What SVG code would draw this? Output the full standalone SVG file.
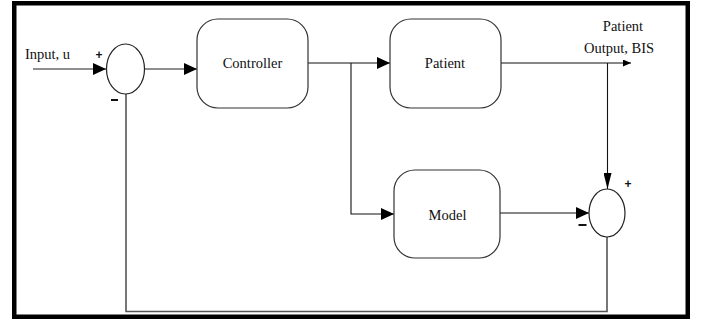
<svg xmlns="http://www.w3.org/2000/svg" width="706" height="320" viewBox="0 0 706 320">
  <style>
    .block { fill: #ffffff; stroke: #333333; stroke-width: 1.2; }
    .sum { fill: #ffffff; stroke: #222222; stroke-width: 1.2; }
    .label { font-family: "Liberation Serif", "Times New Roman", "DejaVu Serif", serif; font-size: 14.5px; fill: #111111; }
    .sign { font-family: "Liberation Sans", Arial, sans-serif; font-weight: bold; font-size: 12px; fill: #111111; }
    .wire { fill: none; stroke: #111111; stroke-width: 1.1; }
    .wire-grey { fill: none; stroke: #6a6a6a; stroke-width: 1.4; }
    .feedback { fill: none; stroke: #555555; stroke-width: 1.6; }
  </style>
  <defs>
    <marker id="arr" viewBox="0 0 13 12" refX="13" refY="6" markerWidth="13" markerHeight="12" markerUnits="userSpaceOnUse" orient="auto">
      <path d="M0,0 L13,6 L0,12 z" fill="#000000"/>
    </marker>
    <marker id="arrSmall" viewBox="0 0 8 7" refX="8" refY="3.5" markerWidth="8" markerHeight="7" markerUnits="userSpaceOnUse" orient="auto">
      <path d="M0,0 L8,3.5 L0,7 z" fill="#000000"/>
    </marker>
    <marker id="arrLong" viewBox="0 0 16 8" refX="16" refY="4" markerWidth="16" markerHeight="8" markerUnits="userSpaceOnUse" orient="auto">
      <path d="M0,0 L16,4 L0,8 z" fill="#000000"/>
    </marker>
  </defs>

  <rect width="706" height="320" fill="#ffffff"/>
  <!-- outer frame -->
  <rect x="14.25" y="3.25" width="673.5" height="313.5" fill="none" stroke="#000000" stroke-width="4.5"/>

  <!-- connectors -->
  <g id="connectors">
    <line class="wire-grey" x1="33" y1="69" x2="106" y2="69" marker-end="url(#arr)"/>
    <line class="wire-grey" x1="144" y1="69" x2="197" y2="69" marker-end="url(#arr)"/>
    <line class="wire" x1="308" y1="63" x2="390" y2="63" marker-end="url(#arr)"/>
    <polyline class="wire" points="351,63 351,214 394,214" marker-end="url(#arr)"/>
    <line class="wire" x1="501" y1="63" x2="631" y2="63" marker-end="url(#arrSmall)"/>
    <line class="wire" x1="607.5" y1="63" x2="607.5" y2="189" marker-end="url(#arrLong)"/>
    <line class="wire" x1="500" y1="213" x2="589" y2="213" marker-end="url(#arr)"/>
    <polyline class="feedback" points="607,237 607,311.5 126,311.5 126,94"/>
  </g>

  <!-- input label -->
  <text class="label" x="25" y="59">Input, u</text>

  <g id="sum1">
    <ellipse class="sum" cx="125.5" cy="69" rx="19" ry="25"/>
    <text class="sign" x="99" y="59" text-anchor="middle">+</text>
    <rect x="111" y="99" width="7" height="2" fill="#111111"/>
  </g>

  <g id="controller">
    <rect class="block" x="197" y="19" width="111" height="89" rx="21" ry="21"/>
    <text class="label" x="252.5" y="68" text-anchor="middle">Controller</text>
  </g>

  <g id="patient">
    <rect class="block" x="390" y="19" width="111" height="89" rx="21" ry="21"/>
    <text class="label" x="445" y="68" text-anchor="middle">Patient</text>
  </g>

  <g id="model">
    <rect class="block" x="394" y="170" width="106" height="88" rx="21" ry="21"/>
    <text class="label" x="447.5" y="220" text-anchor="middle">Model</text>
  </g>

  <g id="sum2">
    <ellipse class="sum" cx="607" cy="213" rx="18" ry="24"/>
    <text class="sign" x="628" y="188" text-anchor="middle">+</text>
    <rect x="578.5" y="224" width="8" height="2" fill="#111111"/>
  </g>

  <!-- output label -->
  <g id="output-label">
    <text class="label" x="623" y="31" text-anchor="middle">Patient</text>
    <text class="label" x="619" y="53" text-anchor="middle">Output, BIS</text>
  </g>
</svg>
